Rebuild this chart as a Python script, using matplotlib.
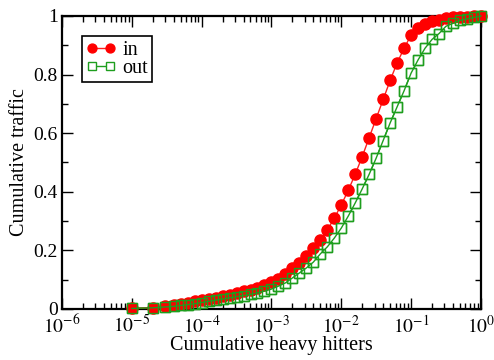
import numpy as np
import matplotlib
matplotlib.use('Agg')
import matplotlib.pyplot as plt
from matplotlib.ticker import LogLocator, FixedLocator, NullFormatter, MultipleLocator

plt.rcParams['font.family'] = ['Liberation Serif', 'DejaVu Serif']
plt.rcParams['mathtext.fontset'] = 'stix'

# log10 of cumulative heavy hitters fraction (shared by both series)
log_x = [-5.0, -4.7, -4.52, -4.4, -4.3, -4.2, -4.1, -4.0, -3.9, -3.8, -3.7, -3.6,
         -3.5, -3.4, -3.3, -3.2, -3.1, -3.0, -2.9, -2.8, -2.7, -2.6, -2.5, -2.4,
         -2.3, -2.2, -2.1, -2.0, -1.9, -1.8, -1.7, -1.6, -1.5, -1.4, -1.3, -1.2,
         -1.1, -1.0, -0.9, -0.8, -0.7, -0.6, -0.5, -0.4, -0.3, -0.2, -0.1, 0.0]

traffic_in = [0.002, 0.004, 0.010, 0.015, 0.018, 0.022, 0.026, 0.030, 0.034, 0.038,
              0.043, 0.048, 0.053, 0.060, 0.066, 0.073, 0.083, 0.091, 0.103, 0.120,
              0.140, 0.157, 0.180, 0.207, 0.235, 0.270, 0.310, 0.355, 0.405, 0.460,
              0.520, 0.585, 0.650, 0.715, 0.780, 0.840, 0.890, 0.935, 0.960, 0.974,
              0.983, 0.988, 0.992, 0.995, 0.997, 0.998, 0.999, 1.000]

traffic_out = [0.002, 0.004, 0.007, 0.009, 0.012, 0.015, 0.018, 0.022, 0.026, 0.030,
               0.034, 0.038, 0.042, 0.046, 0.050, 0.055, 0.061, 0.068, 0.078, 0.089,
               0.106, 0.123, 0.140, 0.160, 0.188, 0.212, 0.242, 0.276, 0.317, 0.362,
               0.410, 0.460, 0.515, 0.575, 0.635, 0.690, 0.745, 0.805, 0.850, 0.890,
               0.920, 0.940, 0.965, 0.975, 0.985, 0.990, 0.995, 1.000]

xticks = [1e-6, 1e-5, 1e-4, 1e-3, 1e-2, 1e-1, 1]
xtick_labels = [r'$10^{-6}$', r'$10^{-5}$', r'$10^{-4}$', r'$10^{-3}$',
                r'$10^{-2}$', r'$10^{-1}$', r'$10^{0}$']
yticks = [0, 0.2, 0.4, 0.6, 0.8, 1.0]
ytick_labels = ['0', '0.2', '0.4', '0.6', '0.8', '1']

green = '#1e9e1e'
red = '#ff0000'

x = 10.0 ** np.array(log_x)

fig = plt.figure(figsize=(4.94, 3.6), dpi=100)
ax = fig.add_axes([0.1255, 0.1417, 0.848, 0.8139])

ax.plot(x, traffic_out, color=green, lw=1, marker='s', ms=6.5, mfc='white',
        mec=green, mew=1, label='out', clip_on=False, zorder=2)
ax.plot(x, traffic_in, color='#ff2020', lw=1, marker='o', ms=8, mfc=red,
        mec=red, label='in', clip_on=False, zorder=3)
# squares outline drawn again over the circles
ax.plot(x, traffic_out, color=green, lw=1, marker='s', ms=6.5, mfc='none',
        mec=green, mew=1, clip_on=False, zorder=4)

ax.set_xscale('log')
ax.set_xlim(1e-6, 1)
ax.set_ylim(0, 1)

ax.xaxis.set_major_locator(FixedLocator(xticks))
ax.xaxis.set_minor_locator(LogLocator(base=10, subs=np.arange(2, 10), numticks=20))
ax.xaxis.set_minor_formatter(NullFormatter())
ax.set_xticklabels(xtick_labels)
ax.set_yticks(yticks)
ax.set_yticklabels(ytick_labels)
ax.yaxis.set_minor_locator(MultipleLocator(0.1))

ax.tick_params(which='both', direction='in', top=True, right=True, labelsize=14, width=1)
ax.tick_params(which='major', length=8)
ax.tick_params(which='minor', length=4)
ax.tick_params(axis='x', pad=4)
ax.tick_params(axis='y', pad=3)
for s in ax.spines.values():
    s.set_linewidth(1.6)

ax.set_xlabel('Cumulative heavy hitters', fontsize=14.5, labelpad=-1)
ax.set_ylabel('Cumulative traffic', fontsize=14.5, labelpad=3)

h, l = ax.get_legend_handles_labels()
leg = ax.legend([h[1], h[0]], [l[1], l[0]], loc='upper left', bbox_to_anchor=(0.048, 0.93),
                numpoints=2, handlelength=1.5, handletextpad=0.3, borderpad=0.2,
                labelspacing=-0.05, fontsize=14.5, fancybox=False, framealpha=1,
                edgecolor='black', borderaxespad=0, markerscale=0.8)
leg.get_frame().set_linewidth(1.2)

fig.savefig('out.png', dpi=100)
